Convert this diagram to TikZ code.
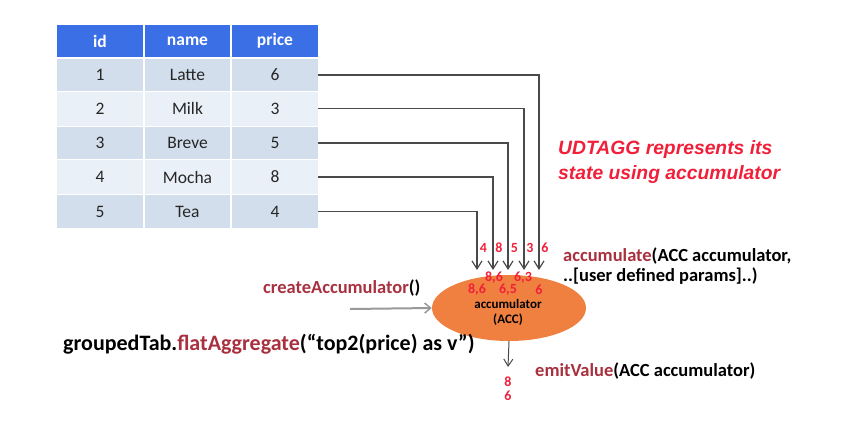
\documentclass[tikz,border=0pt]{standalone}
\usepackage{fontspec}
\setmainfont{Carlito}
\newfontfamily\arialf{Liberation Sans}
\usetikzlibrary{arrows.meta,shapes.geometric}
\definecolor{hdrblue}{HTML}{3B6FE6}
\definecolor{rowa}{HTML}{D3DEEC}
\definecolor{rowb}{HTML}{EAF0F8}
\definecolor{fnred}{HTML}{A8303F}
\definecolor{numred}{HTML}{F0203A}
\definecolor{lngray}{HTML}{4A4A4A}
\definecolor{ellfill}{HTML}{F08040}
\tikzset{
  cellbox/.style={inner sep=0pt, font=\fontsize{17.5}{19}\selectfont, text=black!85},
  hdrtxt/.style={text=white, font=\bfseries\fontsize{17.5}{19}\selectfont, inner sep=0pt},
  feed/.style={draw=lngray, line width=1.2pt, -{Straight Barb[length=8pt,width=10pt,line width=1.2pt]}},
  num/.style={text=numred, font=\bfseries\fontsize{14}{15}\selectfont, inner sep=0pt},
  call/.style={font=\bfseries\fontsize{18.5}{20}\selectfont, inner sep=0pt, anchor=west}
}
\begin{document}
\begin{tikzpicture}[x=1pt,y=-1pt]
\useasboundingbox (0,0) rectangle (865,421);
% table header
\fill[hdrblue] (57,25) rectangle (143,57);
\fill[hdrblue] (145,25) rectangle (230,57);
\fill[hdrblue] (232,25) rectangle (318,57);
\node[hdrtxt] (hid) at (100,41) {id};
\node[hdrtxt] (hname) at (187.5,41) {name};
\node[hdrtxt] (hprice) at (275,41) {price};
% rows
\foreach \yt/\yb/\c in {59/91/rowa, 92/126/rowb, 127/159/rowa, 160/194/rowb, 195/228/rowa}{
  \fill[\c] (57,\yt) rectangle (143,\yb);
  \fill[\c] (145,\yt) rectangle (230,\yb);
  \fill[\c] (232,\yt) rectangle (318,\yb);
}
\foreach \i/\nm/\pr/\y in {1/Latte/6/75, 2/Milk/3/108.5, 3/Breve/5/143, 4/Mocha/8/177, 5/Tea/4/211.5}{
  \node[cellbox] (id\i) at (100,\y) {\i};
  \node[cellbox] (nm\i) at (187.5,\y) {\nm};
  \node[cellbox] (pr\i) at (275,\y) {\pr};
  \coordinate (src\i) at (318,\y);
}
% ellipse
\node[ellipse, fill=ellfill, minimum width=154pt, minimum height=66pt, inner sep=0pt] (acc) at (509,308) {};
\node[font=\bfseries\fontsize{13}{14}\selectfont, inner sep=0pt] (acctxt) at (508,304) {accumulator};
\node[font=\bfseries\fontsize{13}{14}\selectfont, inner sep=0pt] (acctxt2) at (508,320) {(ACC)};
% feed arrows
\coordinate (t1) at (539,270);
\coordinate (t2) at (524,270);
\coordinate (t3) at (508,270);
\coordinate (t4) at (493,270);
\coordinate (t5) at (477,270);
\draw[feed] (src1) -| (t1);
\draw[feed] (src2) -| (t2);
\draw[feed] (src3) -| (t3);
\draw[feed] (src4) -| (t4);
\draw[feed] (src5) -| (t5);
\node[num] (n4) at (483.5,248) {4};
\node[num] (n8) at (499,248) {8};
\node[num] (n5) at (514.5,248) {5};
\node[num] (n3) at (530,248) {3};
\node[num] (n6) at (545,248) {6};
% states inside
\node[num] (s1) at (494,278) {8,6};
\node[num] (s2) at (523,278) {6,3};
\node[num] (s3) at (477,290) {8,6};
\node[num] (s4) at (508,290) {6,5};
\node[num] (s5) at (539,290) {6};
% output
\coordinate (outend) at (508,367);
\draw[draw=lngray, line width=1pt, -{Straight Barb[length=7pt,width=9pt,line width=1pt]}] (acc.south) -- (outend);
\node[num] (o8) at (508,382) {8};
\node[num] (o6) at (508,395.5) {6};
% create arrow
\coordinate (cstart) at (350,309);
\draw[draw=gray!80, line width=2pt, -{Straight Barb[length=6pt,width=10pt,line width=1.5pt]}] (cstart) -- (acc.west);
% texts
\node[call] (create) at (263,288) {\textcolor{fnred}{createAccumulator}()};
\node[call, align=left, anchor=north west] (accum) at (563,248) {\textcolor{fnred}{accumulate}(ACC accumulator,\\..[user defined params]..)};
\node[call] (emit) at (535,371) {\textcolor{fnred}{emitValue}(ACC accumulator)};
\node[font=\bfseries\fontsize{22}{24}\selectfont, inner sep=0pt, anchor=west] (grp) at (63,344) {groupedTab.\textcolor{fnred}{flatAggregate}(“top2(price) as v”)};
\node[font=\arialf\bfseries\itshape\fontsize{19.3}{25}\selectfont, text=numred, align=left, anchor=north west, inner sep=0pt] (udt) at (558,140) {UDTAGG represents its\\state using accumulator};
\end{tikzpicture}
\end{document}
